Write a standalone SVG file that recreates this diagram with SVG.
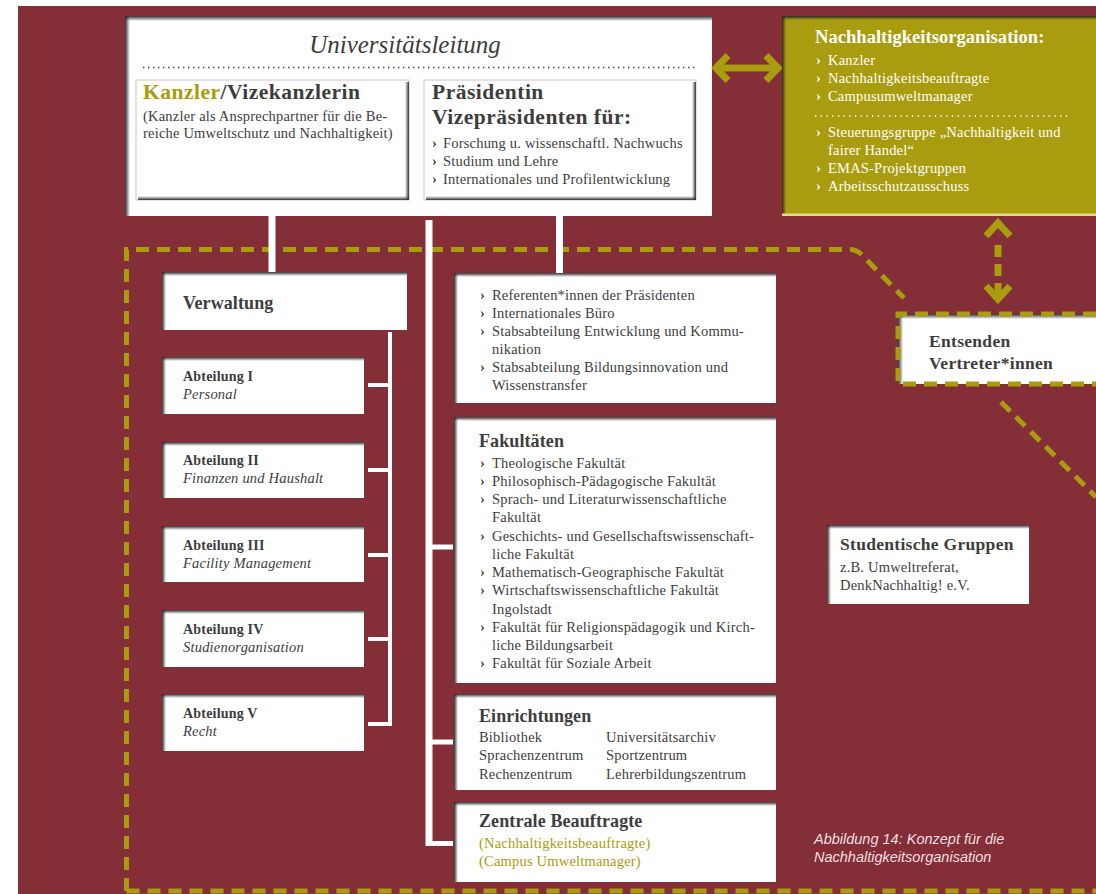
<svg xmlns="http://www.w3.org/2000/svg" width="1096" height="894" viewBox="0 0 1096 894">
<defs>
<linearGradient id="gT" x1="0" y1="0" x2="0" y2="1"><stop offset="0" stop-color="#262626" stop-opacity="0.95"/><stop offset="1" stop-color="#262626" stop-opacity="0"/></linearGradient>
<linearGradient id="gL" x1="0" y1="0" x2="1" y2="0"><stop offset="0" stop-color="#262626" stop-opacity="0.95"/><stop offset="1" stop-color="#262626" stop-opacity="0"/></linearGradient>
<linearGradient id="gR" x1="0" y1="0" x2="1" y2="0"><stop offset="0" stop-color="#2a2a2a" stop-opacity="0"/><stop offset="1" stop-color="#2a2a2a" stop-opacity="0.95"/></linearGradient>
<linearGradient id="gB" x1="0" y1="0" x2="0" y2="1"><stop offset="0" stop-color="#2a2a2a" stop-opacity="0"/><stop offset="1" stop-color="#2a2a2a" stop-opacity="0.95"/></linearGradient>
<style>
.t{font-family:"Liberation Serif","DejaVu Serif",serif;fill:#3d3d3d}
.h{font-weight:bold;font-size:18px;letter-spacing:0.1px}
.s{font-size:14.5px;letter-spacing:0.2px}
.b{font-size:14px;font-weight:bold;letter-spacing:0.2px}
.big{font-size:21.5px;font-weight:bold;letter-spacing:0.5px}
.m{font-size:17.5px;font-weight:bold;letter-spacing:0.3px}
.i{font-style:italic}
.w{fill:#ffffff}
.o{fill:#a99c0e}
.box{fill:#ffffff}
.dash{fill:none;stroke:#a99c0e;stroke-width:5;stroke-dasharray:13 8}
.con{stroke:#ffffff;fill:none}
.arr{fill:none;stroke:#a99c0e;stroke-width:7}
.cap{font-family:"Liberation Sans","DejaVu Sans",sans-serif;font-style:italic;font-size:14.5px;fill:#f0dfe1}
</style>
</defs>
<rect x="0" y="0" width="1096" height="894" fill="#ffffff"/>
<rect x="18" y="6" width="1078" height="888" fill="#842e38"/>

<g id="dashed-region">
<path class="dash" d="M126.5,891 L126.5,249.5 L850,249.5 Q856,249.5 861,254 L904,298"/>
<path class="dash" d="M126.5,891 L1096,891"/>
<path class="dash" d="M1001,402 L1096,497"/>
</g>

<g id="universitaetsleitung">
<rect class="box" x="125" y="16" width="587" height="200"/>
<rect x="125" y="16" width="587" height="5" fill="url(#gT)"/>
<rect x="125" y="16" width="5" height="200" fill="url(#gL)"/>
<text class="t i" x="405" y="53" font-size="25" text-anchor="middle">Universitätsleitung</text>
<line x1="143" y1="67.5" x2="695" y2="67.5" stroke="#3d3d3d" stroke-width="1.6" stroke-dasharray="1.4 3.6"/>
</g>

<g id="connectors">
<line class="con" x1="272" y1="200" x2="272" y2="216" stroke="#c8a0a5" stroke-width="9"/>
<line class="con" x1="272" y1="200" x2="272" y2="272" stroke-width="7"/>
<line class="con" x1="559.5" y1="200" x2="559.5" y2="216" stroke="#c8a0a5" stroke-width="9"/>
<line class="con" x1="559.5" y1="200" x2="559.5" y2="273" stroke-width="7"/>
<line class="con" x1="429" y1="220" x2="429" y2="846" stroke-width="7"/>
<line class="con" x1="429" y1="547" x2="453" y2="547" stroke-width="5"/>
<line class="con" x1="429" y1="742" x2="453" y2="742" stroke-width="5"/>
<line class="con" x1="429" y1="843.5" x2="453" y2="843.5" stroke-width="5"/>
<line class="con" x1="390" y1="332" x2="390" y2="726" stroke-width="4"/>
<line class="con" x1="368" y1="385" x2="390" y2="385" stroke-width="4"/>
<line class="con" x1="368" y1="470" x2="390" y2="470" stroke-width="4"/>
<line class="con" x1="368" y1="555" x2="390" y2="555" stroke-width="4"/>
<line class="con" x1="368" y1="639" x2="390" y2="639" stroke-width="4"/>
<line class="con" x1="368" y1="724" x2="390" y2="724" stroke-width="4"/>
<polyline class="arr" points="728,55.5 716,68 728,80.5"/>
<polyline class="arr" points="766,55.5 778,68 766,80.5"/>
<line class="arr" x1="718" y1="68" x2="776" y2="68"/>
<polyline class="arr" points="986,236 998,223 1010,236"/>
<polyline class="arr" points="986,286 998,299 1010,286"/>
<line class="arr" x1="998" y1="245" x2="998" y2="296" stroke-dasharray="12 7"/>
</g>

<g id="kanzler">
<rect class="box" x="136" y="80" width="273" height="120" stroke="#dcbcc0" stroke-width="1"/>
<rect x="405" y="82" width="4" height="118" fill="url(#gR)"/>
<rect x="138" y="196" width="271" height="4" fill="url(#gB)"/>
<text class="t big" x="143" y="99"><tspan class="o">Kanzler</tspan>/Vizekanzlerin</text>
<text class="t s" x="143" y="121">(Kanzler als Ansprechpartner für die Be-</text>
<text class="t s" x="143" y="138">reiche Umweltschutz und Nachhaltigkeit)</text>
</g>

<g id="praesidentin">
<rect class="box" x="424" y="80" width="272" height="120" stroke="#dcbcc0" stroke-width="1"/>
<rect x="692" y="82" width="4" height="118" fill="url(#gR)"/>
<rect x="426" y="196" width="270" height="4" fill="url(#gB)"/>
<text class="t big" x="432" y="99">Präsidentin</text>
<text class="t big" x="432" y="124">Vizepräsidenten für:</text>
<text class="t s" x="432" y="148"><tspan font-weight="bold">›</tspan><tspan x="443">Forschung u. wissenschaftl. Nachwuchs</tspan></text>
<text class="t s" x="432" y="166"><tspan font-weight="bold">›</tspan><tspan x="443">Studium und Lehre</tspan></text>
<text class="t s" x="432" y="184"><tspan font-weight="bold">›</tspan><tspan x="443">Internationales und Profilentwicklung</tspan></text>
</g>

<g id="nachhaltigkeitsorganisation">
<rect x="782" y="16" width="314" height="200" fill="#a99c0e"/>
<rect x="782" y="16" width="314" height="4" fill="url(#gT)"/>
<rect x="782" y="16" width="4" height="200" fill="url(#gL)"/>
<rect x="782" y="213.5" width="314" height="2.5" fill="#e2da8c"/>
<text class="t w" x="815" y="43" font-size="18.6" font-weight="bold">Nachhaltigkeitsorganisation:</text>
<text class="t w s" x="816" y="65"><tspan font-weight="bold">›</tspan><tspan x="828">Kanzler</tspan></text>
<text class="t w s" x="816" y="83"><tspan font-weight="bold">›</tspan><tspan x="828">Nachhaltigkeitsbeauftragte</tspan></text>
<text class="t w s" x="816" y="101"><tspan font-weight="bold">›</tspan><tspan x="828">Campusumweltmanager</tspan></text>
<line x1="815" y1="116" x2="1070" y2="116" stroke="#ffffff" stroke-width="1.5" stroke-dasharray="1.4 4.3"/>
<text class="t w s" x="816" y="137"><tspan font-weight="bold">›</tspan><tspan x="828">Steuerungsgruppe „Nachhaltigkeit und</tspan></text>
<text class="t w s" x="828" y="155">fairer Handel“</text>
<text class="t w s" x="816" y="173"><tspan font-weight="bold">›</tspan><tspan x="828">EMAS-Projektgruppen</tspan></text>
<text class="t w s" x="816" y="191"><tspan font-weight="bold">›</tspan><tspan x="828">Arbeitsschutzausschuss</tspan></text>
</g>

<g id="verwaltung">
<rect class="box" x="162" y="272" width="245" height="58"/>
<rect x="162" y="272" width="245" height="4" fill="url(#gT)"/>
<rect x="162" y="272" width="4" height="58" fill="url(#gL)"/>
<text class="t h" x="183" y="309">Verwaltung</text>
</g>

<g id="abteilung-1">
<rect class="box" x="162" y="357" width="202" height="57"/>
<rect x="162" y="357" width="202" height="4" fill="url(#gT)"/>
<rect x="162" y="357" width="4" height="57" fill="url(#gL)"/>
<text class="t b" x="183" y="381">Abteilung I</text>
<text class="t s i" x="183" y="399">Personal</text>
</g>
<g id="abteilung-2">
<rect class="box" x="162" y="442" width="202" height="56"/>
<rect x="162" y="442" width="202" height="4" fill="url(#gT)"/>
<rect x="162" y="442" width="4" height="56" fill="url(#gL)"/>
<text class="t b" x="183" y="465">Abteilung II</text>
<text class="t s i" x="183" y="483">Finanzen und Haushalt</text>
</g>
<g id="abteilung-3">
<rect class="box" x="162" y="526" width="202" height="56"/>
<rect x="162" y="526" width="202" height="4" fill="url(#gT)"/>
<rect x="162" y="526" width="4" height="56" fill="url(#gL)"/>
<text class="t b" x="183" y="550">Abteilung III</text>
<text class="t s i" x="183" y="568">Facility Management</text>
</g>
<g id="abteilung-4">
<rect class="box" x="162" y="610" width="202" height="57"/>
<rect x="162" y="610" width="202" height="4" fill="url(#gT)"/>
<rect x="162" y="610" width="4" height="57" fill="url(#gL)"/>
<text class="t b" x="183" y="634">Abteilung IV</text>
<text class="t s i" x="183" y="652">Studienorganisation</text>
</g>
<g id="abteilung-5">
<rect class="box" x="162" y="694" width="202" height="57"/>
<rect x="162" y="694" width="202" height="4" fill="url(#gT)"/>
<rect x="162" y="694" width="4" height="57" fill="url(#gL)"/>
<text class="t b" x="183" y="718">Abteilung V</text>
<text class="t s i" x="183" y="736">Recht</text>
</g>

<g id="stabsstellen">
<rect class="box" x="454" y="273" width="322" height="130"/>
<rect x="454" y="273" width="322" height="4" fill="url(#gT)"/>
<rect x="454" y="273" width="4" height="130" fill="url(#gL)"/>
<text class="t s" x="480" y="300"><tspan font-weight="bold">›</tspan><tspan x="492">Referenten*innen der Präsidenten</tspan></text>
<text class="t s" x="480" y="318"><tspan font-weight="bold">›</tspan><tspan x="492">Internationales Büro</tspan></text>
<text class="t s" x="480" y="336"><tspan font-weight="bold">›</tspan><tspan x="492">Stabsabteilung Entwicklung und Kommu-</tspan></text>
<text class="t s" x="492" y="354">nikation</text>
<text class="t s" x="480" y="372"><tspan font-weight="bold">›</tspan><tspan x="492">Stabsabteilung Bildungsinnovation und</tspan></text>
<text class="t s" x="492" y="390">Wissenstransfer</text>
</g>

<g id="fakultaeten">
<rect class="box" x="454" y="417" width="322" height="266"/>
<rect x="454" y="417" width="322" height="4" fill="url(#gT)"/>
<rect x="454" y="417" width="4" height="266" fill="url(#gL)"/>
<text class="t h" x="479" y="447">Fakultäten</text>
<text class="t s" x="480" y="468"><tspan font-weight="bold">›</tspan><tspan x="492">Theologische Fakultät</tspan></text>
<text class="t s" x="480" y="486"><tspan font-weight="bold">›</tspan><tspan x="492">Philosophisch-Pädagogische Fakultät</tspan></text>
<text class="t s" x="480" y="504"><tspan font-weight="bold">›</tspan><tspan x="492">Sprach- und Literaturwissenschaftliche</tspan></text>
<text class="t s" x="492" y="522">Fakultät</text>
<text class="t s" x="480" y="541"><tspan font-weight="bold">›</tspan><tspan x="492">Geschichts- und Gesellschaftswissenschaft-</tspan></text>
<text class="t s" x="492" y="559">liche Fakultät</text>
<text class="t s" x="480" y="577"><tspan font-weight="bold">›</tspan><tspan x="492">Mathematisch-Geographische Fakultät</tspan></text>
<text class="t s" x="480" y="595"><tspan font-weight="bold">›</tspan><tspan x="492">Wirtschaftswissenschaftliche Fakultät</tspan></text>
<text class="t s" x="492" y="614">Ingolstadt</text>
<text class="t s" x="480" y="632"><tspan font-weight="bold">›</tspan><tspan x="492">Fakultät für Religionspädagogik und Kirch-</tspan></text>
<text class="t s" x="492" y="650">liche Bildungsarbeit</text>
<text class="t s" x="480" y="668"><tspan font-weight="bold">›</tspan><tspan x="492">Fakultät für Soziale Arbeit</tspan></text>
</g>

<g id="einrichtungen">
<rect class="box" x="454" y="694" width="322" height="96"/>
<rect x="454" y="694" width="322" height="4" fill="url(#gT)"/>
<rect x="454" y="694" width="4" height="96" fill="url(#gL)"/>
<text class="t h" x="479" y="722">Einrichtungen</text>
<text class="t s" x="479" y="742">Bibliothek</text>
<text class="t s" x="606" y="742">Universitätsarchiv</text>
<text class="t s" x="479" y="760">Sprachenzentrum</text>
<text class="t s" x="606" y="760">Sportzentrum</text>
<text class="t s" x="479" y="779">Rechenzentrum</text>
<text class="t s" x="606" y="779">Lehrerbildungszentrum</text>
</g>

<g id="zentrale-beauftragte">
<rect class="box" x="454" y="802" width="322" height="80"/>
<rect x="454" y="802" width="322" height="4" fill="url(#gT)"/>
<rect x="454" y="802" width="4" height="80" fill="url(#gL)"/>
<text class="t h" x="479" y="827">Zentrale Beauftragte</text>
<text class="t s o" x="479" y="848">(Nachhaltigkeitsbeauftragte)</text>
<text class="t s o" x="479" y="866">(Campus Umweltmanager)</text>
</g>

<g id="entsenden">
<rect class="box" x="898" y="314" width="198" height="70"/>
<rect x="898" y="314" width="198" height="5" fill="url(#gT)"/>
<rect x="898" y="314" width="5" height="70" fill="url(#gL)"/>
<path class="dash" d="M1096,314 L898,314 L898,384 L1096,384"/>
<text class="t m" x="929" y="347">Entsenden</text>
<text class="t m" x="929" y="369">Vertreter*innen</text>
</g>

<g id="studentische-gruppen">
<rect class="box" x="827" y="525" width="202" height="79"/>
<rect x="827" y="525" width="202" height="4" fill="url(#gT)"/>
<rect x="827" y="525" width="4" height="79" fill="url(#gL)"/>
<text class="t m" x="840" y="550">Studentische Gruppen</text>
<text class="t s" x="840" y="572">z.B. Umweltreferat,</text>
<text class="t s" x="840" y="590">DenkNachhaltig! e.V.</text>
</g>

<g id="caption">
<text class="cap" x="814" y="844">Abbildung 14: Konzept für die</text>
<text class="cap" x="814" y="862">Nachhaltigkeitsorganisation</text>
</g>
</svg>
